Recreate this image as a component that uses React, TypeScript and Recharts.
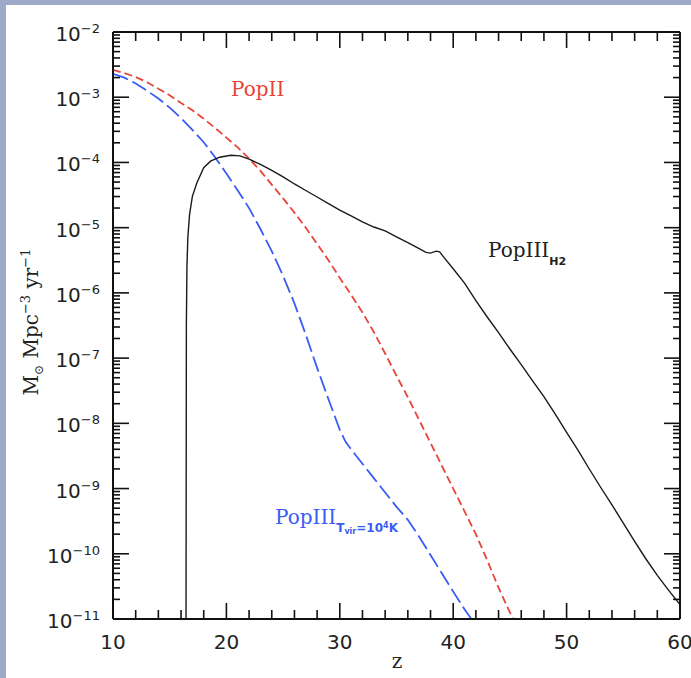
import React from 'react';
import { LineChart, Line, XAxis, YAxis } from 'recharts';

const W = 691;
const H = 678;

// axis domains (y is log10 of the rate)
const X_DOMAIN: [number, number] = [10, 60];
const Y_DOMAIN: [number, number] = [-11, -2];

const xMajorTicks = [10, 20, 30, 40, 50, 60];
const xMinorTicks = [12, 14, 16, 18, 22, 24, 26, 28, 32, 34, 36, 38, 42, 44, 46, 48, 52, 54, 56, 58];
const yDecades = [-11, -10, -9, -8, -7, -6, -5, -4, -3, -2];
const minorMultipliers = [2, 3, 4, 5, 6, 7, 8, 9];

// PopII (red short dashes): redshift and log10 rate
const popIIZ = [10, 11, 12, 13, 14, 15, 16, 17, 18, 19, 20, 21, 22, 23, 24, 25, 26, 27, 28, 29, 30, 31, 32, 33, 34, 35, 36, 37, 38, 39, 40, 41, 42, 43, 44, 45, 45.3];
const popIILog = [-2.58, -2.63, -2.69, -2.77, -2.87, -2.97, -3.09, -3.2, -3.33, -3.47, -3.62, -3.77, -3.94, -4.13, -4.34, -4.55, -4.77, -5.0, -5.25, -5.5, -5.77, -6.03, -6.3, -6.6, -6.93, -7.27, -7.6, -7.95, -8.3, -8.65, -9.0, -9.35, -9.7, -10.1, -10.52, -10.9, -11.0];

// PopIII Tvir=1e4K (blue long dashes)
const popIIITvirZ = [10, 11, 12, 13, 14, 15, 16, 17, 18, 19, 20, 21, 22, 23, 24, 25, 26, 27, 28, 29, 30, 30.5, 31, 32, 33, 34, 35, 36, 37, 38, 39, 40, 41, 41.6];
const popIIITvirLog = [-2.64, -2.7, -2.79, -2.9, -3.02, -3.16, -3.32, -3.5, -3.69, -3.92, -4.17, -4.43, -4.7, -5.02, -5.36, -5.74, -6.16, -6.64, -7.15, -7.63, -8.1, -8.28, -8.4, -8.62, -8.84, -9.06, -9.28, -9.48, -9.74, -10.02, -10.3, -10.58, -10.85, -11.0];

// PopIII H2 (black solid)
const popIIIH2Z = [16.44, 16.47, 16.52, 16.6, 16.75, 17.0, 17.4, 18.0, 18.6, 19.4, 20.4, 21.2, 22, 23, 24, 25, 26, 27, 28, 29, 30, 31, 32, 33, 34, 35, 36, 37, 37.6, 38.0, 38.5, 38.8, 39.2, 40, 41, 42, 43, 44, 45, 46, 47, 48, 49, 50, 51, 52, 53, 54, 55, 56, 57, 58, 59, 60];
const popIIIH2Log = [-11.0, -6.5, -5.6, -5.15, -4.8, -4.52, -4.31, -4.08, -3.98, -3.92, -3.89, -3.9, -3.95, -4.03, -4.12, -4.22, -4.33, -4.43, -4.53, -4.63, -4.73, -4.82, -4.91, -4.99, -5.05, -5.14, -5.23, -5.32, -5.38, -5.39, -5.36, -5.37, -5.46, -5.63, -5.85, -6.12, -6.37, -6.61, -6.86, -7.1, -7.35, -7.59, -7.86, -8.14, -8.41, -8.7, -8.98, -9.25, -9.53, -9.81, -10.08, -10.33, -10.56, -10.78];

const toData = (zs: number[], vs: number[]) => zs.map((z, i) => ({ z, v: vs[i] }));
const popIIData = toData(popIIZ, popIILog);
const tvirData = toData(popIIITvirZ, popIIITvirLog);
const h2Data = toData(popIIIH2Z, popIIIH2Log);

const xTicks = [...xMajorTicks, ...xMinorTicks].sort((a, b) => a - b);
const yTicks = [
  ...yDecades,
  ...yDecades.slice(0, -1).flatMap((d) => minorMultipliers.map((k) => d + Math.log10(k))),
].sort((a, b) => a - b);

const isMajorY = (v: number) => Math.abs(v - Math.round(v)) < 1e-9;
const AX = '#111';
const RED = '#e8453a';
const BLUE = '#3a5cf5';

const BottomTick = (p: any) => {
  const { x, y, payload } = p;
  const v = payload.value;
  const major = xMajorTicks.includes(v);
  return (
    <g>
      <line x1={x} x2={x} y1={y} y2={y - (major ? 16 : 9)} stroke={AX} strokeWidth={1.6} />
      {major && (
        <text x={x} y={y + 30} textAnchor="middle" fontFamily="DejaVu Sans" fontSize={20} fill="#222">
          {v}
        </text>
      )}
    </g>
  );
};

const TopTick = (p: any) => {
  const { x, y, payload } = p;
  const major = xMajorTicks.includes(payload.value);
  return <line x1={x} x2={x} y1={y} y2={y + (major ? 16 : 9)} stroke={AX} strokeWidth={1.6} />;
};

const LeftTick = (p: any) => {
  const { x, y, payload } = p;
  const v = payload.value;
  const major = isMajorY(v);
  return (
    <g>
      <line x1={x} x2={x + (major ? 16 : 7)} y1={y} y2={y} stroke={AX} strokeWidth={1.6} />
      {major && (
        <text x={x - 13} y={y + 9} textAnchor="end" fontFamily="DejaVu Sans" fill="#222">
          <tspan fontSize={20}>10</tspan>
          <tspan fontSize={13} dy={-8}>{'\u2212' + Math.abs(Math.round(v))}</tspan>
        </text>
      )}
    </g>
  );
};

const RightTick = (p: any) => {
  const { x, y, payload } = p;
  const major = isMajorY(payload.value);
  return <line x1={x} x2={x - (major ? 16 : 7)} y1={y} y2={y} stroke={AX} strokeWidth={1.6} />;
};

export default function App() {
  return (
    <div style={{ position: 'fixed', left: 0, top: 0, width: W, height: H, background: '#9ea8c9' }}>
      <div style={{ position: 'absolute', left: 6, top: 5, right: 0, bottom: 0, background: '#ffffff' }} />
      <div style={{ position: 'absolute', left: 0, top: 0 }}>
        <LineChart width={W} height={H} margin={{ top: 0, right: 0, bottom: 0, left: 0 }}>
          <XAxis xAxisId="b" orientation="bottom" type="number" dataKey="z" domain={X_DOMAIN} ticks={xTicks}
            interval={0} height={59} tickSize={0} tickMargin={0} tickLine={false} tick={BottomTick}
            axisLine={{ stroke: AX, strokeWidth: 2 }} allowDataOverflow />
          <XAxis xAxisId="t" orientation="top" type="number" dataKey="z" domain={X_DOMAIN} ticks={xTicks}
            interval={0} height={32} tickSize={0} tickMargin={0} tickLine={false} tick={TopTick}
            axisLine={{ stroke: AX, strokeWidth: 2 }} allowDataOverflow />
          <YAxis yAxisId="l" orientation="left" type="number" domain={Y_DOMAIN} ticks={yTicks}
            interval={0} width={113} tickSize={0} tickMargin={0} tickLine={false} tick={LeftTick}
            axisLine={{ stroke: AX, strokeWidth: 2 }} allowDataOverflow />
          <YAxis yAxisId="r" orientation="right" type="number" domain={Y_DOMAIN} ticks={yTicks}
            interval={0} width={11} tickSize={0} tickMargin={0} tickLine={false} tick={RightTick}
            axisLine={{ stroke: AX, strokeWidth: 2 }} allowDataOverflow />
          <Line xAxisId="b" yAxisId="l" data={popIIData} dataKey="v" type="linear" stroke={RED}
            strokeWidth={1.8} strokeDasharray="8 4" dot={false} isAnimationActive={false} />
          <Line xAxisId="b" yAxisId="l" data={tvirData} dataKey="v" type="linear" stroke={BLUE}
            strokeWidth={1.8} strokeDasharray="16 5" dot={false} isAnimationActive={false} />
          <Line xAxisId="b" yAxisId="l" data={h2Data} dataKey="v" type="linear" stroke="#1a1a1a"
            strokeWidth={1.4} dot={false} isAnimationActive={false} />
        </LineChart>
      </div>
      <svg width={W} height={H} style={{ position: 'absolute', left: 0, top: 0, pointerEvents: 'none' }}>
        <text x={231} y={96} fontFamily="DejaVu Serif" fontSize={20} fill={RED}>PopII</text>
        <text x={488} y={257} fontFamily="DejaVu Serif" fontSize={20} fill="#222">
          PopIII
          <tspan fontFamily="DejaVu Sans" fontWeight="bold" fontSize={11} dy={8}>H2</tspan>
        </text>
        <text x={275} y={524} fontFamily="DejaVu Serif" fontSize={20} fill={BLUE}>
          PopIII
          <tspan fontFamily="DejaVu Sans" fontWeight="bold" fontSize={12} dy={8}>T</tspan>
          <tspan fontFamily="DejaVu Sans" fontWeight="bold" fontSize={8} dy={2}>vir</tspan>
          <tspan fontFamily="DejaVu Sans" fontWeight="bold" fontSize={12} dy={-2}>=10</tspan>
          <tspan fontFamily="DejaVu Sans" fontWeight="bold" fontSize={8} dy={-4}>4</tspan>
          <tspan fontFamily="DejaVu Sans" fontWeight="bold" fontSize={12} dy={4}>K</tspan>
        </text>
        <text x={397} y={668} textAnchor="middle" fontFamily="DejaVu Serif" fontSize={20} fill="#222">z</text>
        <text transform="translate(38,322) rotate(-90)" textAnchor="middle" fontFamily="DejaVu Serif" fontSize={20} fill="#222">
          M
          <tspan fontSize={12} dy={5}>{'\u2299'}</tspan>
          <tspan fontSize={20} dy={-5}>{' Mpc'}</tspan>
          <tspan fontSize={13} dy={-8}>{'\u22123'}</tspan>
          <tspan fontSize={20} dy={8}>{' yr'}</tspan>
          <tspan fontSize={13} dy={-8}>{'\u22121'}</tspan>
        </text>
      </svg>
    </div>
  );
}
